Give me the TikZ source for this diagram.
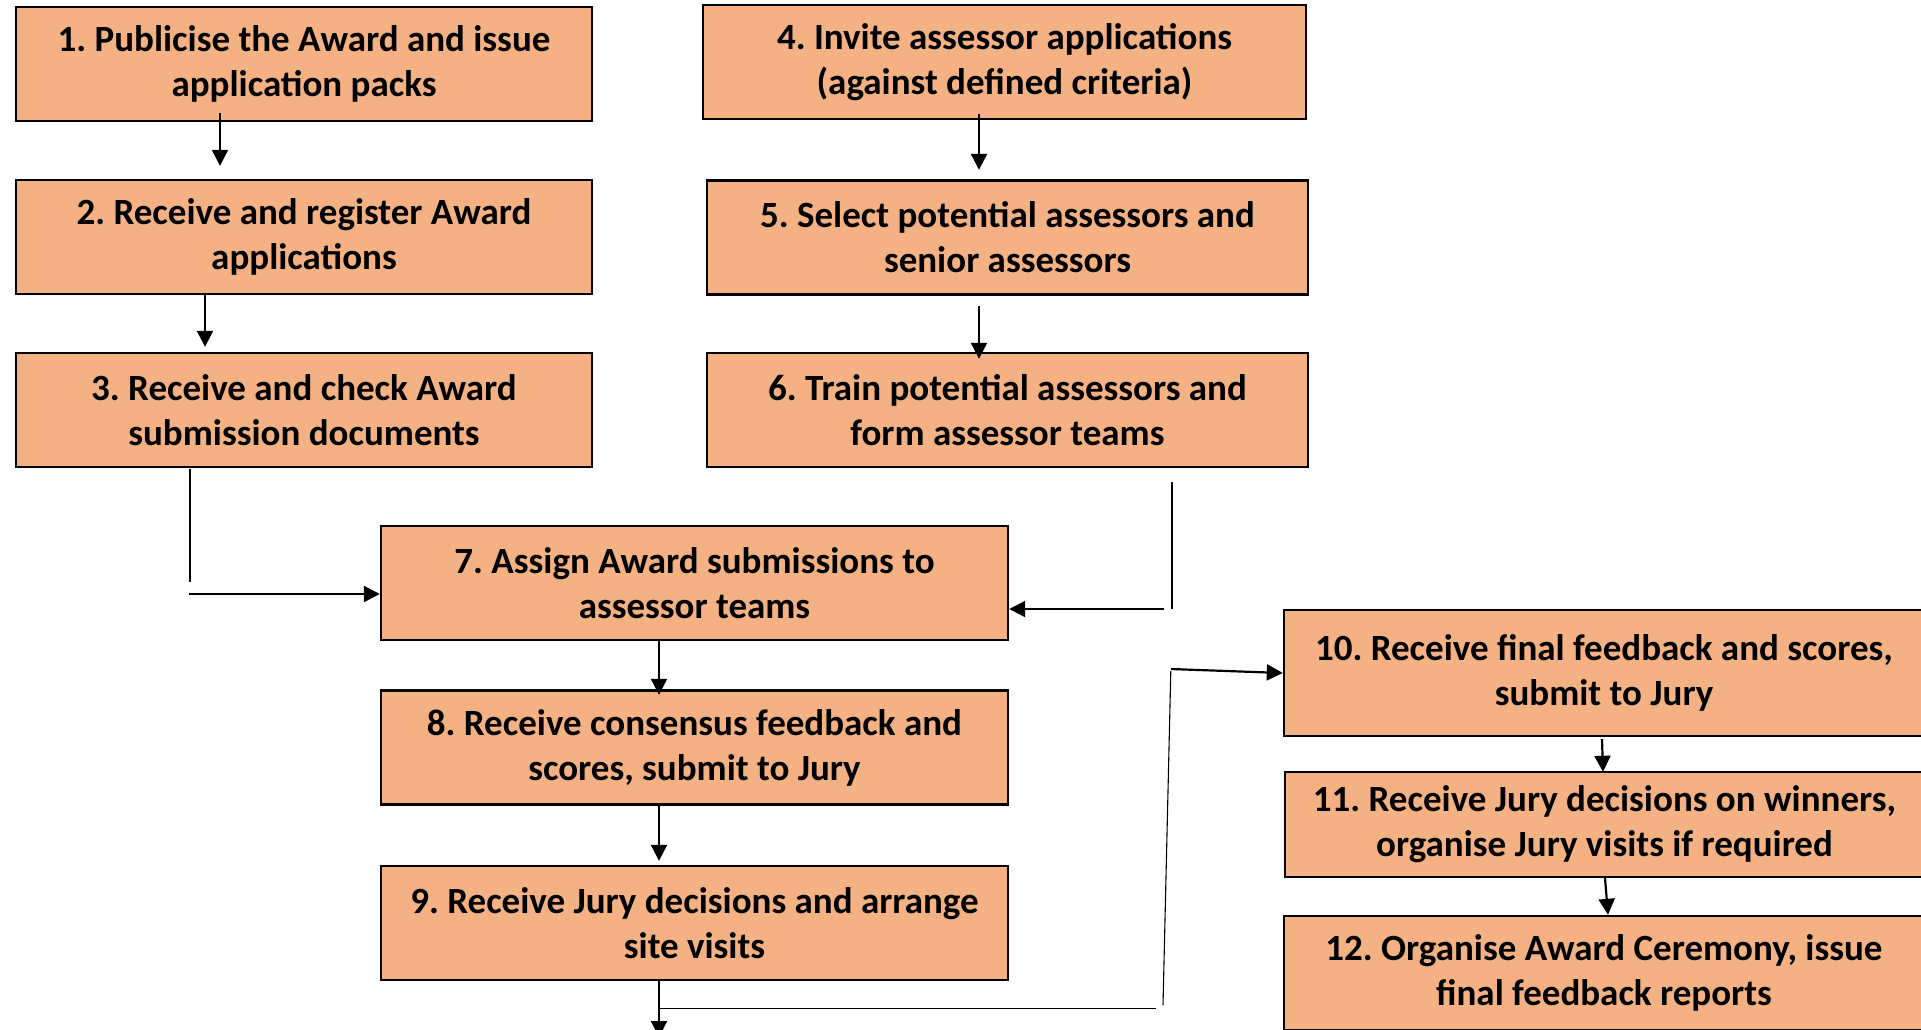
\documentclass[tikz,border=0pt]{standalone}
\usepackage{fontspec}
\setmainfont{Carlito}
\usetikzlibrary{arrows.meta}
\definecolor{boxfill}{HTML}{F4B183}
\frenchspacing
\begin{document}
\begin{tikzpicture}[x=0.5pt,y=-0.5pt,
  stepbox/.style n args={2}{draw=black, line width=1.2pt, fill=boxfill,
    rectangle, inner sep=0pt, align=center,
    minimum width=#1*0.5pt, minimum height=#2*0.5pt,
    font=\bfseries\fontsize{18.5}{22.5}\selectfont},
  conn/.style={line width=1.1pt, -{Triangle[length=8pt,width=8pt]}},
  plainline/.style={line width=1.1pt},
  thinline/.style={line width=0.55pt}]
\useasboundingbox (0,0) rectangle (1921,1029);
\clip (0,0) rectangle (1921,1029);

% left column: applications
\node[stepbox={576}{114}] (b1) at (304,64) {1. Publicise the Award and issue\\application packs};
\node[stepbox={576}{114}] (b2) at (304,237) {2. Receive and register Award\\applications};
\node[stepbox={576}{114}] (b3) at (304,410) {3. Receive and check Award\\submission documents};

% right column: assessors
\node[stepbox={603}{114}] (b4) at (1004.5,62) {4. Invite assessor applications\\(against defined criteria)};
\node[stepbox={601}{114}] (b5) at (1007.5,237.5) {5. Select potential assessors and\\senior assessors};
\node[stepbox={601}{114}] (b6) at (1007.5,410) {6. Train potential assessors and\\form assessor teams};

% middle column: assessment
\node[stepbox={627}{114}] (b7) at (694.5,583) {7. Assign Award submissions to\\assessor teams};
\node[stepbox={627}{114}] (b8) at (694.5,747.5) {8. Receive consensus feedback and\\scores, submit to Jury};
\node[stepbox={627}{114}] (b9) at (694.5,923) {9. Receive Jury decisions and arrange\\site visits};

% far right column: results
\node[stepbox={640}{126}] (b10) at (1604,673) {10. Receive final feedback and scores,\\submit to Jury};
\node[stepbox={639}{105}] (b11) at (1604.5,824.5) {11. Receive Jury decisions on winners,\\organise Jury visits if required};
\node[stepbox={640}{114}] (b12) at (1604,973) {12. Organise Award Ceremony, issue\\final feedback reports};

\coordinate (out9) at (659,1037);

% vertical steps
\draw[conn] ([shift={(-84,-9)}]b1.south) -- ([shift={(-84,-13)}]b2.north);
\draw[conn] ([shift={(-99,-1)}]b2.south) -- ([shift={(-99,-5)}]b3.north);
\draw[conn] ([shift={(-25.5,-6)}]b4.south) -- ([shift={(-28.5,-9.5)}]b5.north);
\draw[conn] ([shift={(-28.5,10.5)}]b5.south) -- ([shift={(-28.5,7)}]b6.north);
\draw[conn] ([shift={(-35.5,0)}]b7.south) -- ([shift={(-35.5,5.5)}]b8.north);
\draw[conn] ([shift={(-35.5,0)}]b8.south) -- ([shift={(-35.5,-4)}]b9.north);
\draw[conn] ([shift={(-35.5,0)}]b9.south) -- (out9);
\draw[conn] ([shift={(-2,2)}]b10.south) -- ([shift={(-1.5,1)}]b11.north);
\draw[conn] ([shift={(0.5,0)}]b11.south) -- ([shift={(4,0)}]b12.north);

% 3 -> 7
\draw[plainline] ([shift={(-114,1)}]b3.south) -- ([shift={(-114,114)}]b3.south);
\draw[conn] ([shift={(-191,11)}]b7.west) -- ([shift={(0,11)}]b7.west);

% 6 -> 7
\draw[plainline] ([shift={(164.5,14)}]b6.south) -- ([shift={(164.5,141)}]b6.south);
\draw[conn] ([shift={(155,26)}]b7.east) -- ([shift={(0,26)}]b7.east);

% 9 -> 10
\draw[thinline] ([shift={(-35.5,27)}]b9.south) -- ([shift={(461.5,27)}]b9.south);
\draw[thinline] ([shift={(468.5,24)}]b9.south) -- ([shift={(-112,-2)}]b10.west);
\draw[conn] ([shift={(-112,-4)}]b10.west) -- (b10.west);
\end{tikzpicture}
\end{document}
